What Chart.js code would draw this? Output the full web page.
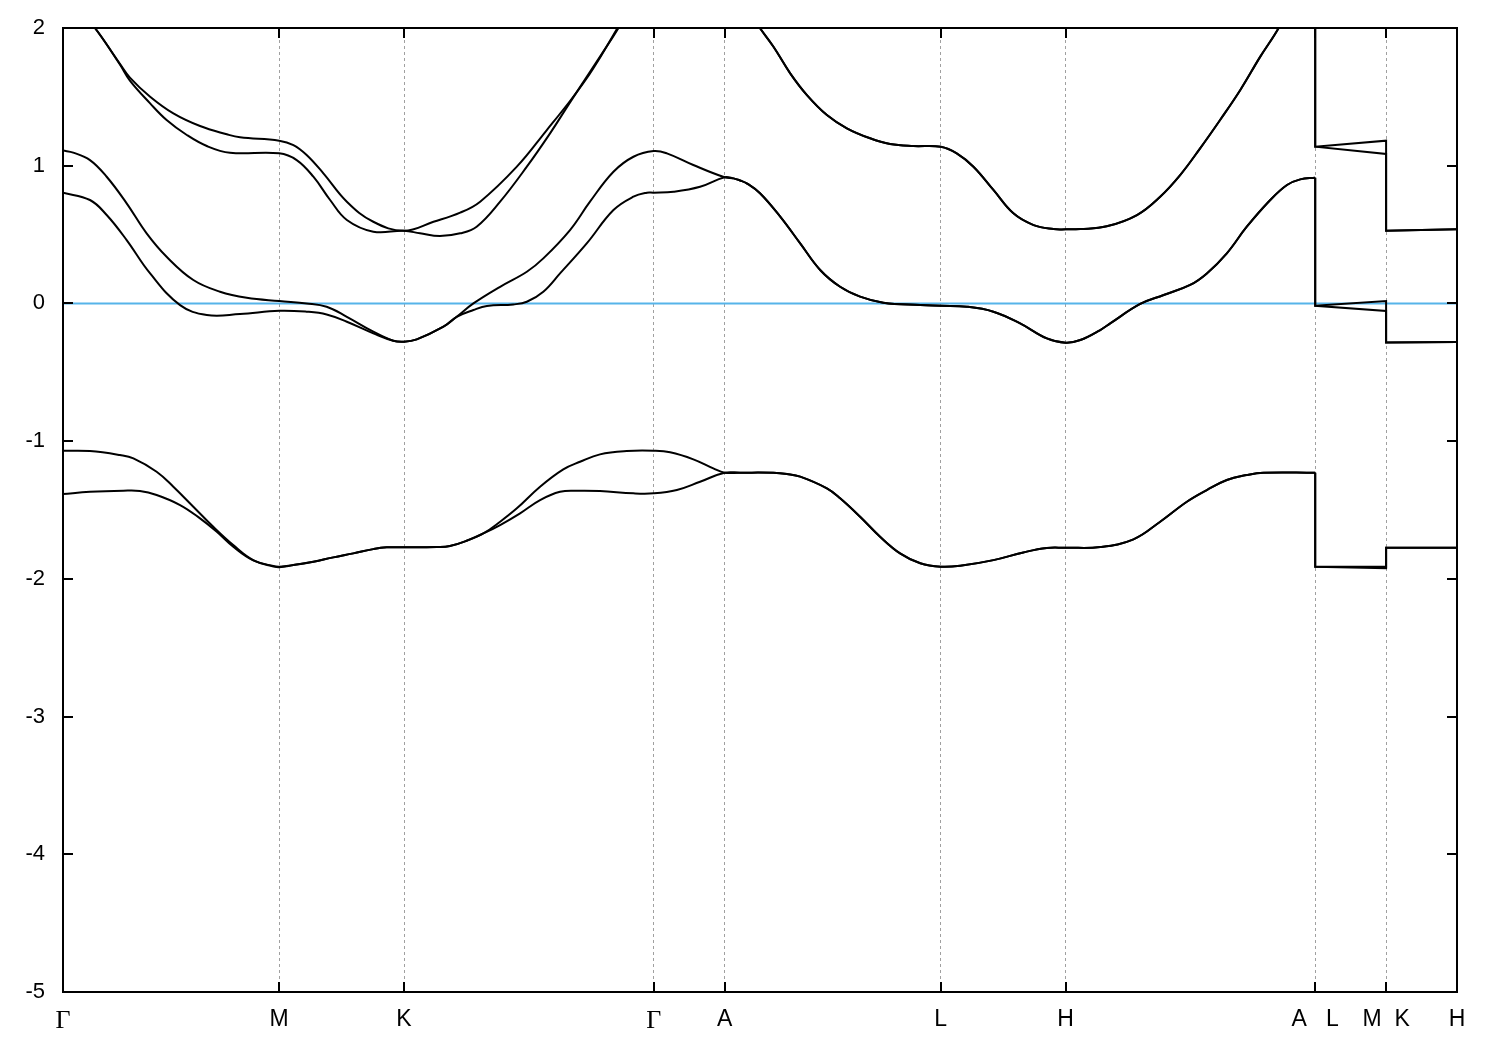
<!DOCTYPE html>
<html>
<head>
<meta charset="utf-8">
<script src="https://cdn.jsdelivr.net/npm/chart.js@4.4.1/dist/chart.umd.min.js"></script>
<style>
  html, body { margin: 0; padding: 0; background: #ffffff; }
  #c { display: block; }
</style>
</head>
<body>
<canvas id="c" width="1500" height="1050"></canvas>
<script>
// ---- k-path ticks ----
const kTicks  = [0, 0.866, 1.366, 2.366, 2.650, 3.516, 4.016, 5.016, 5.300, 5.584];
const kLabels = ['Γ', 'M', 'K', 'Γ', 'A', 'L', 'H', 'A   L', 'M  K', 'H'];
const yTicks  = [-5, -4, -3, -2, -1, 0, 1, 2];
const fermi   = [[0, 0], [5.584, 0]];

// ---- lowest pair of bands ----
const gGM = [[0,-1.070],[0.108,-1.072],[0.228,-1.101],[0.282,-1.125],[0.375,-1.222],[0.442,-1.331],[0.522,-1.476],[0.602,-1.622],[0.682,-1.755],[0.762,-1.864],[0.843,-1.907],[0.866,-1.912]];
const hGM = [[0,-1.384],[0.108,-1.368],[0.242,-1.360],[0.308,-1.362],[0.375,-1.391],[0.469,-1.464],[0.549,-1.561],[0.616,-1.658],[0.682,-1.767],[0.762,-1.866],[0.843,-1.910],[0.866,-1.916]];
const lowMK = [[0.923,-1.900],[1.003,-1.876],[1.083,-1.844],[1.163,-1.815],[1.243,-1.784],[1.297,-1.771],[1.366,-1.771],[1.497,-1.769],[1.550,-1.762],[1.617,-1.723],[1.684,-1.670]];
const gKA = [[1.751,-1.585],[1.818,-1.488],[1.911,-1.331],[2.004,-1.205],[2.071,-1.150],[2.151,-1.096],[2.258,-1.072],[2.366,-1.070],[2.432,-1.081],[2.525,-1.132],[2.605,-1.198],[2.650,-1.229]];
const hKA = [[1.751,-1.609],[1.831,-1.524],[1.911,-1.428],[1.991,-1.368],[2.058,-1.360],[2.151,-1.362],[2.285,-1.379],[2.366,-1.379],[2.459,-1.355],[2.552,-1.295],[2.650,-1.229]];
const lowAH = [[2.712,-1.229],[2.846,-1.230],[2.900,-1.239],[2.953,-1.258],[3.060,-1.343],[3.113,-1.415],[3.193,-1.549],[3.273,-1.694],[3.353,-1.815],[3.434,-1.887],[3.516,-1.912],[3.594,-1.905],[3.727,-1.864],[3.847,-1.808],[3.941,-1.776],[4.016,-1.774],[4.155,-1.769],[4.288,-1.713],[4.395,-1.585],[4.502,-1.440],[4.582,-1.355],[4.662,-1.282],[4.742,-1.246],[4.809,-1.229],[5.016,-1.229]];
const gTail = [[5.016,-1.912],[5.300,-1.912],[5.300,-1.774],[5.584,-1.774]];
const hTail = [[5.016,-1.912],[5.300,-1.922],[5.300,-1.774],[5.584,-1.774]];

// ---- bands around the Fermi level ----
const cGM = [[0,1.110],[0.041,1.095],[0.108,1.041],[0.175,0.920],[0.255,0.727],[0.335,0.509],[0.415,0.339],[0.522,0.170],[0.629,0.085],[0.736,0.041],[0.866,0.017],[0.976,0.000],[1.056,-0.024],[1.137,-0.097],[1.243,-0.205],[1.323,-0.271]];
const dGM = [[0,0.804],[0.108,0.751],[0.175,0.642],[0.255,0.460],[0.349,0.218],[0.469,-0.012],[0.576,-0.084],[0.709,-0.077],[0.866,-0.053],[0.976,-0.060],[1.056,-0.080],[1.137,-0.133],[1.243,-0.217],[1.323,-0.271]];
const midK = [[1.366,-0.278],[1.417,-0.261],[1.524,-0.169],[1.577,-0.097]];
const cKA = [[1.644,0.000],[1.751,0.121],[1.858,0.230],[1.924,0.327],[2.031,0.533],[2.111,0.739],[2.205,0.956],[2.285,1.065],[2.366,1.107],[2.419,1.090],[2.525,1.005],[2.650,0.916]];
const dKA = [[1.644,-0.048],[1.698,-0.019],[1.804,-0.007],[1.858,0.012],[1.924,0.085],[1.991,0.218],[2.098,0.436],[2.205,0.678],[2.285,0.775],[2.339,0.804],[2.366,0.804],[2.446,0.811],[2.552,0.847],[2.650,0.916]];
const midAH = [[2.686,0.908],[2.712,0.893],[2.739,0.872],[2.792,0.800],[2.873,0.630],[2.953,0.436],[3.033,0.243],[3.113,0.121],[3.193,0.049],[3.286,0.005],[3.434,-0.012],[3.516,-0.017],[3.621,-0.024],[3.727,-0.060],[3.834,-0.145],[3.941,-0.254],[4.016,-0.285],[4.075,-0.266],[4.155,-0.193],[4.195,-0.145],[4.315,-0.004],[4.409,0.061],[4.515,0.134],[4.582,0.218],[4.662,0.364],[4.742,0.557],[4.836,0.751],[4.903,0.860],[4.956,0.901],[5.016,0.913]];
const cTail = [[5.016,-0.017],[5.300,0.017],[5.300,-0.283],[5.584,-0.280]];
const dTail = [[5.016,-0.017],[5.300,-0.055],[5.300,-0.283],[5.584,-0.280]];

// ---- upper pair of bands ----
const eGM = [[0,2.180],[0.064,2.130],[0.128,2.000],[0.228,1.740],[0.268,1.640],[0.349,1.501],[0.442,1.380],[0.549,1.288],[0.656,1.228],[0.709,1.206],[0.866,1.182],[0.923,1.150],[0.976,1.078],[1.043,0.945],[1.137,0.739],[1.243,0.593],[1.366,0.528]];
const fGM = [[0,2.180],[0.064,2.130],[0.128,2.000],[0.228,1.735],[0.268,1.618],[0.349,1.453],[0.415,1.332],[0.496,1.223],[0.576,1.143],[0.669,1.094],[0.866,1.090],[0.936,1.041],[1.003,0.920],[1.070,0.751],[1.137,0.606],[1.243,0.521],[1.366,0.528]];
const eKA = [[1.484,0.593],[1.591,0.659],[1.671,0.739],[1.818,0.993],[1.938,1.259],[2.031,1.470],[2.098,1.635],[2.151,1.785],[2.218,1.990],[2.290,2.220],[2.366,2.450],[2.650,2.350],[2.712,2.200]];
const fKA = [[1.430,0.509],[1.510,0.489],[1.591,0.509],[1.657,0.557],[1.751,0.739],[1.858,0.993],[1.951,1.235],[2.031,1.460],[2.098,1.645],[2.165,1.830],[2.225,2.000],[2.290,2.210],[2.366,2.420],[2.650,2.350],[2.712,2.200]];
const upAH = [[2.792,1.998],[2.846,1.864],[2.913,1.671],[2.980,1.513],[3.060,1.368],[3.140,1.272],[3.233,1.199],[3.313,1.158],[3.407,1.143],[3.516,1.138],[3.580,1.090],[3.647,0.993],[3.727,0.824],[3.807,0.654],[3.888,0.569],[3.968,0.540],[4.016,0.538],[4.075,0.540],[4.181,0.560],[4.302,0.642],[4.395,0.775],[4.475,0.932],[4.555,1.126],[4.635,1.332],[4.716,1.550],[4.796,1.792],[4.869,1.998],[4.940,2.250],[5.016,2.400]];
const eTail = [[5.016,1.138],[5.300,1.182],[5.300,0.528],[5.584,0.538]];
const fTail = [[5.016,1.138],[5.300,1.085],[5.300,0.528],[5.584,0.538]];

// ---- assemble: smooth main path Γ…A, straight jumps + short tail ----
const toXY = arr => arr.map(p => ({ x: p[0], y: p[1] }));
const bands = [
  { main: [...gGM, ...lowMK, ...gKA, ...lowAH], tail: gTail },
  { main: [...hGM, ...lowMK, ...hKA, ...lowAH], tail: hTail },
  { main: [...cGM, ...midK, ...cKA, ...midAH], tail: cTail },
  { main: [...dGM, ...midK, ...dKA, ...midAH], tail: dTail },
  { main: [...eGM, ...eKA, ...upAH], tail: eTail },
  { main: [...fGM, ...fKA, ...upAH], tail: fTail }
];

const lineStyle = {
  showLine: true,
  borderColor: '#000000',
  borderWidth: 2,
  pointRadius: 0,
  fill: false,
  clip: 0
};
const datasets = [];
bands.forEach(b => {
  datasets.push({ ...lineStyle, data: toXY(b.main), tension: 0.4 });
  datasets.push({ ...lineStyle, data: toXY([b.main[b.main.length - 1], ...b.tail]), tension: 0 });
});
datasets.push({ ...lineStyle, data: toXY(fermi), borderColor: '#56B4E9', tension: 0 });

const framePlugin = {
  id: 'frame',
  afterDraw(chart) {
    const { ctx, chartArea: a, scales } = chart;
    const xs = scales.x, ys = scales.y;
    const tl = 10;
    ctx.save();
    ctx.strokeStyle = '#000000';
    ctx.lineWidth = 2;
    ctx.strokeRect(a.left, a.top, a.right - a.left, a.bottom - a.top);
    ctx.beginPath();
    kTicks.forEach(v => {
      const px = Math.round(xs.getPixelForValue(v));
      ctx.moveTo(px, a.bottom); ctx.lineTo(px, a.bottom - tl);
      ctx.moveTo(px, a.top); ctx.lineTo(px, a.top + tl);
    });
    yTicks.forEach(v => {
      const py = Math.round(ys.getPixelForValue(v));
      ctx.moveTo(a.left, py); ctx.lineTo(a.left + tl, py);
      ctx.moveTo(a.right, py); ctx.lineTo(a.right - tl, py);
    });
    ctx.stroke();
    ctx.restore();
  }
};

new Chart(document.getElementById('c'), {
  type: 'scatter',
  data: { datasets },
  options: {
    responsive: false,
    animation: false,
    devicePixelRatio: 1,
    elements: { line: { capBezierPoints: false } },
    layout: { padding: { top: 28, right: 43, left: 0, bottom: 0 } },
    plugins: { legend: { display: false }, tooltip: { enabled: false } },
    scales: {
      x: {
        type: 'linear',
        min: kTicks[0],
        max: kTicks[kTicks.length - 1],
        afterBuildTicks: s => { s.ticks = kTicks.map(v => ({ value: v })); },
        afterFit: s => { s.height = 58; s.paddingLeft = 0; s.paddingRight = 0; },
        grid: { color: '#a0a0a0', lineWidth: 1, drawTicks: false, tickLength: 0 },
        border: { display: false, dash: [3, 3] },
        ticks: {
          autoSkip: false,
          maxRotation: 0,
          minRotation: 0,
          padding: 14,
          color: '#000000',
          callback: (v, i) => kLabels[i],
          font: c => (kLabels[c.index] === 'Γ'
            ? { family: '"Liberation Serif", "DejaVu Serif", serif', size: 26 }
            : { family: '"Liberation Sans", Arial, sans-serif', size: 23 })
        }
      },
      y: {
        type: 'linear',
        min: -5,
        max: 2,
        afterBuildTicks: s => { s.ticks = yTicks.map(v => ({ value: v })); },
        afterFit: s => { s.width = 63; s.paddingTop = 0; s.paddingBottom = 0; },
        grid: { display: false, drawTicks: false, tickLength: 0 },
        border: { display: false },
        ticks: {
          padding: 18,
          color: '#000000',
          callback: v => String(v),
          font: { family: '"Liberation Sans", Arial, sans-serif', size: 22 }
        }
      }
    }
  },
  plugins: [framePlugin]
});
</script>
</body>
</html>
